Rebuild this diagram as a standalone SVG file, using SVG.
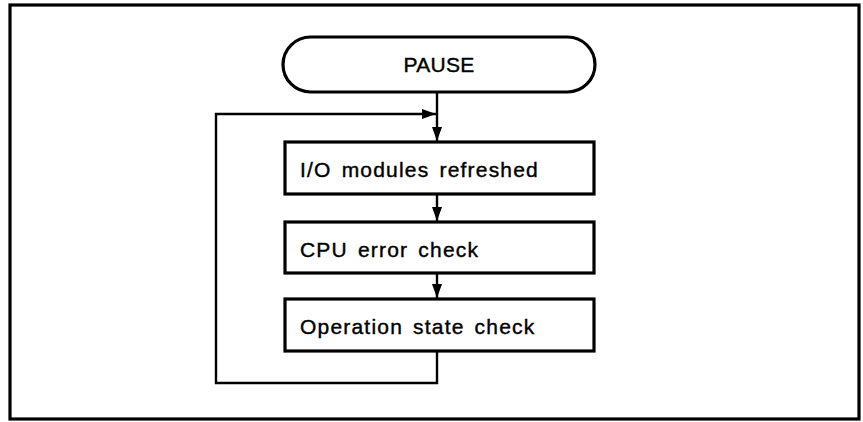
<svg xmlns="http://www.w3.org/2000/svg" width="863" height="422" viewBox="0 0 863 422">
  <defs>
    <marker id="arrow" viewBox="0 0 14 10" refX="14" refY="5" markerWidth="14" markerHeight="10" markerUnits="userSpaceOnUse" orient="auto">
      <path d="M0,0 L14,5 L0,10 Z" fill="#000"/>
    </marker>
    <style>
      .frame { fill: #fff; stroke: #000; stroke-width: 3.2; }
      .box { fill: #fff; stroke: #000; stroke-width: 3.2; }
      .line { fill: none; stroke: #000; stroke-width: 2.4; }
      .label { font-family: "Liberation Sans", Arial, sans-serif; font-size: 21px; fill: #000; stroke: #000; stroke-width: 0.4; letter-spacing: 1.2px; word-spacing: 3px; }
      .title { font-family: "Liberation Sans", Arial, sans-serif; font-size: 21px; fill: #000; stroke: #000; stroke-width: 0.4; letter-spacing: 0.3px; }
    </style>
  </defs>

  <rect width="863" height="422" fill="#fff"/>
  <rect class="frame" x="10" y="5" width="849" height="414"/>

  <!-- Connectors -->
  <g id="connectors">
    <line class="line" x1="437" y1="92" x2="437" y2="141" marker-end="url(#arrow)"/>
    <line class="line" x1="437" y1="194" x2="437" y2="221" marker-end="url(#arrow)"/>
    <line class="line" x1="437" y1="273" x2="437" y2="298" marker-end="url(#arrow)"/>
    <polyline class="line" points="437,351 437,383 216,383 216,114 436,114" marker-end="url(#arrow)"/>
  </g>

  <!-- Start terminator -->
  <g id="pause">
    <rect class="box" x="283" y="37" width="312" height="55" rx="27.5" ry="27.5"/>
    <text class="title" x="439" y="72" text-anchor="middle">PAUSE</text>
  </g>

  <g id="io-refresh">
    <rect class="box" x="285" y="142" width="309" height="52"/>
    <text class="label" x="300" y="177">I/O modules refreshed</text>
  </g>

  <g id="cpu-check">
    <rect class="box" x="285" y="222" width="309" height="51"/>
    <text class="label" x="300" y="257">CPU error check</text>
  </g>

  <g id="state-check">
    <rect class="box" x="285" y="299" width="309" height="52"/>
    <text class="label" x="300" y="334">Operation state check</text>
  </g>
</svg>
